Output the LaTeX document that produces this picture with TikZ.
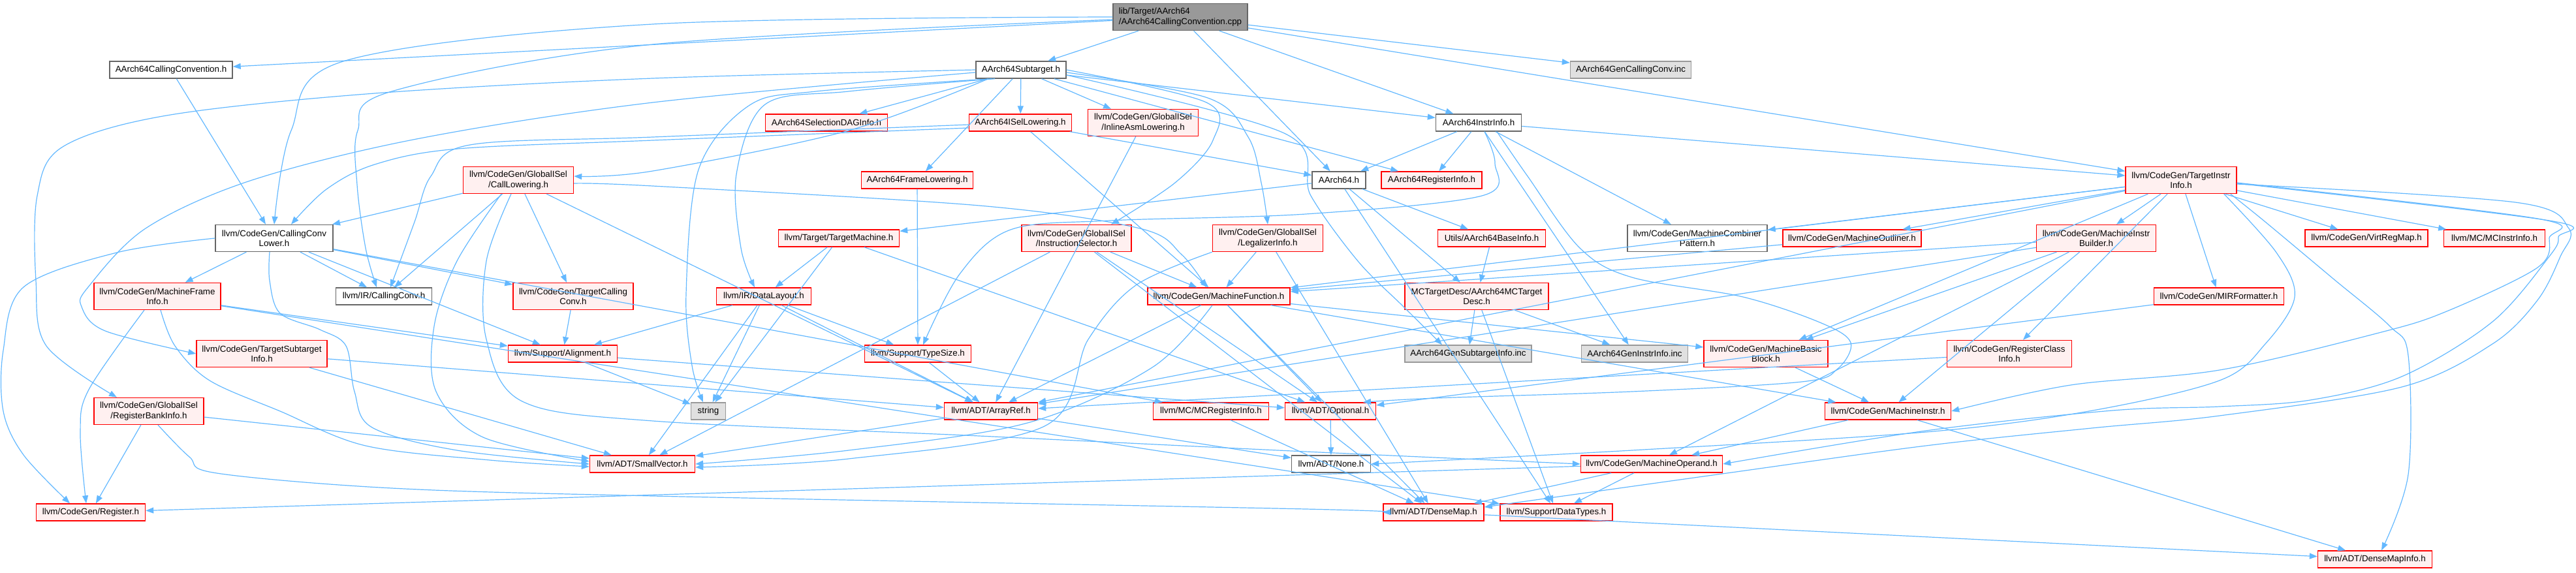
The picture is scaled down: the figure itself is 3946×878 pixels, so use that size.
\documentclass[tikz,border=0pt]{standalone}
\usepackage{fontspec}
\setmainfont{Liberation Sans}
\usetikzlibrary{arrows.meta}
\definecolor{edgec}{HTML}{63B8FF}
\definecolor{redfillc}{HTML}{FFF0F0}
\definecolor{redlinec}{HTML}{FF0000}
\definecolor{greylinec}{HTML}{666666}
\definecolor{incfillc}{HTML}{E0E0E0}
\definecolor{inclinec}{HTML}{999999}
\definecolor{mainfillc}{HTML}{999999}
\newcommand\dnode[7]{\node[#6, minimum width=#4pt, minimum height=#5pt] (#1) at (#2,#3) {#7};}
\newcommand\dcurve[1]{\draw[dep] plot[smooth, tension=0.55] coordinates {#1};}
\begin{document}
\begin{tikzpicture}[x=1pt,y=-1pt,
  box/.style={draw, line width=1.4pt, inner sep=0pt, align=center, font=\fontsize{13.33}{15.5}\selectfont},
  redbox/.style={box, draw=redlinec, fill=redfillc},
  whitebox/.style={box, draw=greylinec, fill=white},
  graybox/.style={box, draw=inclinec, fill=incfillc},
  mainbox/.style={box, draw=greylinec, fill=mainfillc, align=left},
  dep/.style={draw=edgec, line width=1.2pt, -{Triangle[length=12pt,width=9pt]}}
]
\useasboundingbox (0,0) rectangle (3946,878);
% row 0
\dnode{main}{1808}{26}{206}{41}{mainbox}{lib/Target/AArch64\\/AArch64CallingConvention.cpp}
% row 1
\dnode{cch}{262}{107}{188}{26}{whitebox}{AArch64CallingConvention.h}
\dnode{sub}{1564}{107}{138}{26}{whitebox}{AArch64Subtarget.h}
\dnode{gencc}{2498}{107}{185}{26}{graybox}{AArch64GenCallingConv.inc}
% row 2
\dnode{seldag}{1266}{188}{187}{26}{redbox}{AArch64SelectionDAGInfo.h}
\dnode{isel}{1563}{188}{157}{26}{redbox}{AArch64ISelLowering.h}
\dnode{inlasm}{1751}{188}{169}{41}{redbox}{llvm/CodeGen/GlobalISel\\/InlineAsmLowering.h}
\dnode{instrinfo}{2265}{188}{131}{26}{whitebox}{AArch64InstrInfo.h}
% row 3
\dnode{calllow}{794}{276}{169}{41}{redbox}{llvm/CodeGen/GlobalISel\\/CallLowering.h}
\dnode{framelow}{1405}{276}{171}{26}{redbox}{AArch64FrameLowering.h}
\dnode{aarch64}{2051}{276}{82}{26}{whitebox}{AArch64.h}
\dnode{reginfo}{2193}{276}{154}{26}{redbox}{AArch64RegisterInfo.h}
\dnode{tii}{3341}{276}{170}{41}{redbox}{llvm/CodeGen/TargetInstr\\Info.h}
% row 4
\dnode{cclower}{420}{365}{180}{41}{whitebox}{llvm/CodeGen/CallingConv\\Lower.h}
\dnode{tm}{1285}{365}{185}{26}{redbox}{llvm/Target/TargetMachine.h}
\dnode{instsel}{1649}{365}{168}{41}{redbox}{llvm/CodeGen/GlobalISel\\/InstructionSelector.h}
\dnode{legal}{1942}{365}{169}{41}{redbox}{llvm/CodeGen/GlobalISel\\/LegalizerInfo.h}
\dnode{baseinfo}{2285}{365}{165}{26}{redbox}{Utils/AArch64BaseInfo.h}
\dnode{combiner}{2600}{365}{214}{41}{whitebox}{llvm/CodeGen/MachineCombiner\\Pattern.h}
\dnode{outliner}{2837}{365}{212}{26}{redbox}{llvm/CodeGen/MachineOutliner.h}
\dnode{mib}{3211}{365}{183}{41}{redbox}{llvm/CodeGen/MachineInstr\\Builder.h}
\dnode{vrm}{3625}{365}{188}{26}{redbox}{llvm/CodeGen/VirtRegMap.h}
\dnode{mcii}{3821}{365}{155}{26}{redbox}{llvm/MC/MCInstrInfo.h}
% row 5
\dnode{mfi}{241}{454}{194}{41}{redbox}{llvm/CodeGen/MachineFrame\\Info.h}
\dnode{ircc}{588}{454}{147}{26}{whitebox}{llvm/IR/CallingConv.h}
\dnode{tcc}{878}{454}{184}{41}{redbox}{llvm/CodeGen/TargetCalling\\Conv.h}
\dnode{dl}{1170}{454}{145}{26}{redbox}{llvm/IR/DataLayout.h}
\dnode{mf}{1867}{454}{218}{26}{redbox}{llvm/CodeGen/MachineFunction.h}
\dnode{mctd}{2262}{454}{220}{41}{redbox}{MCTargetDesc/AArch64MCTarget\\Desc.h}
\dnode{mirf}{3399}{454}{199}{26}{redbox}{llvm/CodeGen/MIRFormatter.h}
% row 6
\dnode{tsi}{401}{542}{200}{41}{redbox}{llvm/CodeGen/TargetSubtarget\\Info.h}
\dnode{align}{862}{542}{167}{26}{redbox}{llvm/Support/Alignment.h}
\dnode{typesize}{1406}{542}{163}{26}{redbox}{llvm/Support/TypeSize.h}
\dnode{gensub}{2249}{542}{194}{26}{graybox}{AArch64GenSubtargetInfo.inc}
\dnode{geninstr}{2504}{542}{163}{26}{graybox}{AArch64GenInstrInfo.inc}
\dnode{mbb}{2705}{542}{190}{41}{redbox}{llvm/CodeGen/MachineBasic\\Block.h}
\dnode{rci}{3078}{542}{191}{41}{redbox}{llvm/CodeGen/RegisterClass\\Info.h}
% row 7
\dnode{rbi}{228}{630}{168}{41}{redbox}{llvm/CodeGen/GlobalISel\\/RegisterBankInfo.h}
\dnode{string}{1085}{630}{53}{26}{graybox}{string}
\dnode{arrayref}{1518}{630}{143}{26}{redbox}{llvm/ADT/ArrayRef.h}
\dnode{mcri}{1855}{630}{177}{26}{redbox}{llvm/MC/MCRegisterInfo.h}
\dnode{optional}{2038}{630}{139}{26}{redbox}{llvm/ADT/Optional.h}
\dnode{mi}{2892}{630}{193}{26}{redbox}{llvm/CodeGen/MachineInstr.h}
% row 8
\dnode{smallvec}{984}{711}{161}{26}{redbox}{llvm/ADT/SmallVector.h}
\dnode{none}{2039}{711}{121}{26}{whitebox}{llvm/ADT/None.h}
\dnode{mo}{2530}{711}{217}{26}{redbox}{llvm/CodeGen/MachineOperand.h}
% row 9
\dnode{register}{139}{785}{167}{26}{redbox}{llvm/CodeGen/Register.h}
\dnode{densemap}{2196}{785}{154}{26}{redbox}{llvm/ADT/DenseMap.h}
\dnode{datatypes}{2384}{785}{172}{26}{redbox}{llvm/Support/DataTypes.h}
% row 10
\dnode{dmi}{3638}{857}{175}{26}{redbox}{llvm/ADT/DenseMapInfo.h}

% straight connectors
\foreach \a/\b in {
 main/cch, main/aarch64, main/instrinfo, main/sub, main/tii, main/gencc,
 cch/cclower,
 sub/seldag, sub/isel, sub/inlasm, sub/framelow, sub/instrinfo, sub/reginfo,
 isel/aarch64, isel/mf,
 inlasm/arrayref,
 calllow/cclower, calllow/ircc, calllow/tcc, calllow/arrayref,
 framelow/typesize,
 instrinfo/aarch64, instrinfo/reginfo, instrinfo/combiner, instrinfo/tii, instrinfo/geninstr,
 aarch64/mctd, aarch64/baseinfo, aarch64/datatypes, aarch64/tm,
 baseinfo/mctd,
 mctd/gensub, mctd/geninstr, mctd/datatypes,
 tm/dl, tm/string, tm/optional,
 instsel/smallvec, instsel/optional, instsel/densemap, instsel/mf,
 legal/mf, legal/densemap,
 cclower/mcri, cclower/align, cclower/mfi, cclower/ircc, cclower/tcc,
 mfi/align, mfi/datatypes,
 tcc/align,
 tsi/arrayref, tsi/smallvec,
 rbi/register, rbi/smallvec,
 dl/align, dl/smallvec, dl/string, dl/arrayref, dl/typesize,
 align/optional, align/string,
 typesize/arrayref,
 mf/arrayref, mf/mbb, mf/densemap, mf/optional, mf/mi,
 mirf/optional,
 mbb/mi,
 rci/arrayref,
 mi/mo, mi/dmi,
 mo/densemap, mo/datatypes, mo/register,
 optional/none,
 arrayref/smallvec, arrayref/none,
 mcri/densemap,
 densemap/dmi,
 outliner/mf,
 mib/mf, mib/mbb, mib/mi, mib/mo, mib/arrayref,
 tii/mib, tii/mirf, tii/vrm, tii/mcii, tii/combiner, tii/outliner, tii/mf, tii/mbb, tii/rci, tii/arrayref}
 \draw[dep] (\a) -- (\b);

% curved connectors
\dcurve{(main.west) (1000,37) (529,93) (446,200) (cclower.north)}
\dcurve{([yshift=-4pt]main.west) (1000,68) (600,140) (548,200) (547,283) (560,380) ([xshift=-11pt]ircc.north)}
\dcurve{(sub.west) (1000,120) (574,143) (255,177) (96,225) (57,300) (55,430) (71,530) ([xshift=-49pt]rbi.north)}
\dcurve{([yshift=-4pt]sub.west) (1000,157) (638,213) (383,277) (223,350) (135,440) (125,470) (161,507) (tsi.west)}
\dcurve{([xshift=-50pt]sub.south) (1300,200) (1000,262) ([yshift=6pt]calllow.east)}
\dcurve{([xshift=-40pt]sub.south) (1300,140) (1172,160) (1128,267) (1135,380) ([xshift=-14pt]dl.north)}
\dcurve{([xshift=-45pt]sub.south) (1250,140) (1147,162) (1070,260) (1051,450) (1060,560) ([xshift=-8pt]string.north)}
\dcurve{(sub.east) (1848,157) (1858,215) (1800,280) ([xshift=53pt]instsel.north)}
\dcurve{([yshift=-4pt]sub.east) (1850,150) (1912,210) (1932,280) (legal.north)}
\dcurve{([yshift=-8pt]sub.east) (1969,205) (2008,300) (2080,400) (2150,470) ([xshift=-40pt]gensub.north)}
\dcurve{([yshift=-8pt]isel.west) (1000,215) (701,228) (574,252) (500,290) ([xshift=26pt]cclower.north)}
\dcurve{([yshift=-3pt]isel.west) (1000,210) (720,222) (660,270) (635,340) ([xshift=10pt]ircc.north)}
\dcurve{([yshift=-5pt]calllow.east) (1000,285) (1500,315) (1746,350) (1810,390) ([xshift=-19pt]mf.north)}
\dcurve{([xshift=-26pt]calllow.south) (700,400) (665,500) (668,600) (740,670) ([yshift=4pt]smallvec.west)}
\dcurve{([xshift=-11pt]calllow.south) (745,400) (745,520) (800,615) (1000,645) (1500,668) (2000,692) (mo.west)}
\dcurve{(cclower.west) (179,387) (36,440) (5,537) (5,630) (36,697) ([xshift=-32pt]register.north)}
\dcurve{([xshift=-7pt]cclower.south) (413,430) (429,480) (490,505) (530,530) (543,600) (570,655) (700,690) (smallvec.west)}
\dcurve{([xshift=5pt]mfi.south) (268,530) (321,583) (429,630) (560,683) (750,705) ([yshift=-4pt]smallvec.west)}
\dcurve{([xshift=-20pt]mfi.south) (136,597) (123,663) ([xshift=-7pt]register.north)}
\dcurve{([xshift=14pt]rbi.south) (290,700) (332,725) (600,748) (1000,760) (2000,780) (densemap.west)}
\dcurve{([xshift=28pt]instrinfo.south) (2340,270) (2420,380) (2500,425) (2670,455) (2790,495) (2835,525) (2815,565) (2760,585) (2500,600) (2200,610) ([xshift=50pt]optional.north)}
\dcurve{([xshift=9pt]instrinfo.south) (2290,250) (2270,300) (2000,328) (1700,338) (1548,352) (1470,420) ([xshift=8pt]typesize.north)}
\dcurve{([xshift=-10pt]mf.south) (1765,563) (1574,648) (1300,690) (smallvec.east)}
\dcurve{(legal.south west) (1740,437) (1667,520) (1600,653) (1300,703) ([yshift=-5pt]smallvec.east)}
\dcurve{([yshift=-6pt]tii.east) (3853,310) (3935,350) (3922,393) (3887,460) (3818,527) (3679,593) (3400,637) (3204,656) (2950,683) (2638,726) ([yshift=8pt]densemap.east)}
\dcurve{([yshift=-5pt]tii.east) (3905,338) (3919,363) (3905,393) (3818,493) (3679,577) (3539,613) (3400,623) (3236,629) (2950,660) (mo.east)}
\dcurve{([yshift=-4pt]tii.east) (3887,335) (3905,365) (3887,410) (3748,477) (3644,510) (3400,567) (3172,590) (mi.east)}
\dcurve{([xshift=-20pt]tii.south east) (3487,387) (3515,455) (3470,527) (3400,583) (3200,630) (2950,662) (2500,690) (none.east)}
\dcurve{([xshift=-10pt]tii.south east) (3470,340) (3574,427) (3661,500) (3689,545) (3689,727) ([xshift=10pt]dmi.north)}
\end{tikzpicture}
\end{document}
